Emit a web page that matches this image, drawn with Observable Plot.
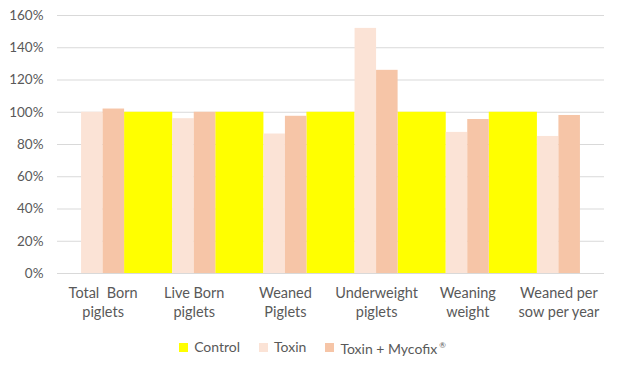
<!DOCTYPE html>
<html><head><meta charset="utf-8">
<script src="https://cdn.jsdelivr.net/npm/d3@7"></script>
<script src="https://cdn.jsdelivr.net/npm/@observablehq/plot@0.6"></script>
<style>
body{margin:0;background:#fff;font-family:Lato,sans-serif;}
#chart svg text{white-space:pre;}
.legend{display:flex;justify-content:center;gap:19px;font-size:14px;color:#595959;line-height:20px;height:20px;padding-left:4px;}
.legend .item{display:flex;align-items:center;}
.legend .sw{display:inline-block;width:9px;height:9px;margin-right:6px;}
.legend sup{font-size:8px;vertical-align:6px;margin-left:2px;}
</style></head><body>
<div id="chart"></div>
<div class="legend" id="legend"></div>
<script>
const categories = ["Total  Born\npiglets","Live Born\npiglets","Weaned\nPiglets","Underweight\npiglets","Weaning\nweight","Weaned per\nsow per year"];
const series = ["Control","Toxin","Toxin + Mycofix ®"];
const control = [1.00,1.00,1.00,1.00,1.00,1.00];
const toxin   = [1.00,0.96,0.865,1.52,0.875,0.85];
const mycofix = [1.02,1.00,0.975,1.26,0.955,0.98];
const yTicks = [0,0.2,0.4,0.6,0.8,1.0,1.2,1.4,1.6];
const colors = ["#FFFF00","#FBE3D6","#F6C5A7"];

const w = 0.236; // pink bar width as fraction of a category
const rows = [];
categories.forEach((c,i)=>{
  // the last Control bar lies outside the plot frame in the reference, so it is not drawn
  if (i < categories.length-1) rows.push({series:series[0], value:control[i], x1:i+w, x2:i+1-w});
  rows.push({series:series[1], value:toxin[i], x1:i-w, x2:i});
  rows.push({series:series[2], value:mycofix[i], x1:i, x2:i+w});
});

const chart = Plot.plot({
  width: 621, height: 337,
  marginLeft: 57, marginRight: 17, marginTop: 15, marginBottom: 64,
  style: {fontFamily: "Lato, sans-serif", fontSize: "13.5px", color: "#595959", background: "#fff"},
  x: {domain: [-0.5, categories.length-0.5]},
  y: {domain: [0, 1.6]},
  color: {domain: series, range: colors},
  marks: [
    Plot.gridY(yTicks, {stroke: "#d9d9d9", strokeOpacity: 1}),
    Plot.rectY(rows, {x1: "x1", x2: "x2", y: "value", fill: "series"}),
    Plot.axisY(yTicks, {tickFormat: d3.format(".0%"), tickSize: 0, tickPadding: 14, label: null, fill: "#595959", fontSize: 13.5}),
    Plot.axisX(d3.range(categories.length), {tickFormat: i => categories[i], tickSize: 0, tickPadding: 11, label: null, fill: "#595959", fontSize: 14.5, lineHeight: 1.3})
  ]
});
document.getElementById("chart").appendChild(chart);

const lg = document.getElementById("legend");
series.forEach((s,k)=>{
  const it = document.createElement("div"); it.className="item";
  const sw = document.createElement("span"); sw.className="sw"; sw.style.background=colors[k];
  it.appendChild(sw);
  const t = document.createElement("span");
  if (s.includes("®")) { t.textContent = s.replace(" ®",""); const sp=document.createElement("sup"); sp.textContent="®"; t.appendChild(sp); }
  else t.textContent = s;
  it.appendChild(t);
  lg.appendChild(it);
});
</script>
</body></html>
